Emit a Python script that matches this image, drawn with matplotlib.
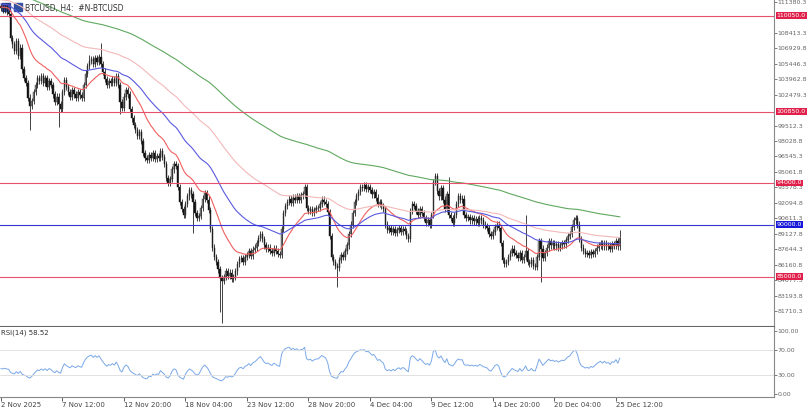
import numpy as np
import matplotlib
matplotlib.use("Agg")
import matplotlib.pyplot as plt

closes = [110.8,110.6,110.9,110.4,110.2,107.9,107.3,106.7,107.6,106.2,107.0,104.9,104.1,103.6,
102.2,101.4,101.9,102.7,103.4,104.1,103.8,104.3,103.6,104.1,103.2,103.8,103.4,102.5,101.8,102.3,101.6,101.1,
102.7,103.9,103.2,102.7,102.3,102.9,102.5,102.2,102.7,102.4,102.2,103.4,104.5,105.2,105.7,
105.9,105.4,106.0,105.6,106.1,105.4,104.7,104.0,103.4,103.8,103.6,104.0,103.6,104.3,103.4,101.8,101.2,
102.3,102.9,102.5,101.1,100.2,99.6,99.1,98.5,98.9,98.0,96.9,96.4,96.2,96.7,96.4,96.9,96.3,96.6,96.4,97.1,
96.5,95.8,94.5,94.0,94.4,95.3,95.8,95.6,93.6,92.2,91.5,90.9,92.0,92.7,93.3,92.9,92.2,91.1,90.6,90.8,
91.6,92.5,93.0,92.4,91.4,89.6,87.8,86.9,86.4,85.7,84.9,84.6,85.0,85.5,85.1,85.4,84.8,85.0,85.5,86.2,
86.7,86.8,86.4,86.9,87.1,87.5,87.0,87.6,87.8,88.2,88.7,89.1,88.6,88.0,87.7,87.8,87.5,87.3,87.7,87.5,
87.2,87.1,89.6,91.1,91.8,92.2,92.5,92.1,92.6,92.4,92.7,92.4,92.8,92.9,93.6,91.6,91.3,91.5,91.1,91.4,91.6,
91.6,92.0,92.4,92.2,92.0,91.2,88.9,86.9,86.4,86.0,85.8,86.6,87.1,86.9,87.5,88.0,89.1,90.0,91.1,
92.2,92.7,93.1,93.6,93.5,93.8,93.4,93.6,93.3,92.9,93.1,92.6,92.0,92.2,91.8,91.5,90.0,89.5,
89.7,89.3,89.6,89.2,89.5,89.7,89.3,89.6,89.4,88.9,88.6,91.3,92.0,91.8,91.3,90.9,91.5,
91.1,90.6,90.2,90.4,90.0,90.9,94.1,94.7,93.2,92.7,93.5,92.4,91.5,92.9,90.9,90.6,90.2,90.9,92.0,
92.7,92.4,92.5,90.9,90.6,90.7,90.4,90.6,90.3,90.5,90.2,90.6,90.4,90.0,89.9,89.7,89.1,88.9,89.3,
89.8,90.0,89.7,88.2,86.6,86.2,86.4,86.9,87.3,87.7,87.3,87.1,86.8,87.3,86.6,86.9,87.5,
86.4,86.2,86.6,86.0,85.9,86.9,88.4,87.7,86.8,87.3,87.8,88.4,88.0,88.2,87.9,88.1,87.8,88.0,88.2,88.1,
88.5,88.9,89.1,89.8,90.4,90.6,90.0,88.6,87.8,87.5,87.2,87.3,87.1,87.4,87.2,87.5,
87.8,88.0,88.2,87.9,88.2,87.9,88.0,87.7,88.1,88.0,88.4,87.9,88.7]
first_open = 111.0
wick_highs = {52: 107.4, 158: 93.9, 226: 95.0, 233: 94.6, 273: 90.9, 322: 89.5, 5: 110.3, 46: 106.3}
wick_lows = {15: 99.1, 30: 99.4, 115: 80.6, 114: 81.6, 175: 84.0, 281: 84.5, 100: 89.2, 62: 100.6}
wick_pad = 0.3
ema_periods = [21, 50, 100, 200]
ema_start = [110.9, 111.2, 111.6, 112.6]
ema_colors = ['#f06060', '#5a5ae0', '#f4b8b8', '#60a860']
hlines = [110050.0, 100850.0, 94000.0, 90000.0, 85000.0]
hline_colors = ['#e8506e', '#e8506e', '#e8506e', '#3535d8', '#e8506e']
hlabel_colors = ['#e0204a', '#e0204a', '#e0204a', '#1818d8', '#e0204a']
price_ticks = [111380.3, 108413.3, 106929.8, 105446.3, 103962.8, 102479.3, 99512.3, 98028.8,
               96545.3, 95061.8, 93578.3, 92094.8, 90611.3, 89127.8, 87644.3, 86160.8,
               84677.3, 83193.8, 81710.3]
date_idx = [0, 32, 64, 96, 128, 160, 192, 224, 256, 288, 320]
date_labels = ['2 Nov 2025', '7 Nov 12:00', '12 Nov 20:00', '18 Nov 04:00', '23 Nov 12:00',
               '28 Nov 20:00', '4 Dec 04:00', '9 Dec 12:00', '14 Dec 20:00', '20 Dec 04:00', '25 Dec 12:00']

c = np.array(closes) * 1000
o = np.concatenate([[first_open * 1000], c[:-1]])
h = np.maximum(o, c) + wick_pad * 1000
l = np.minimum(o, c) - wick_pad * 1000
for k, v in wick_highs.items():
    h[k] = max(h[k], v * 1000)
for k, v in wick_lows.items():
    l[k] = min(l[k], v * 1000)
n = len(c)
x = np.arange(n)

FS = 4.5
fig = plt.figure(figsize=(8.08, 4.09), dpi=100)
ax = fig.add_axes([0, 0.2005, 0.9585, 0.7995])
ax2 = fig.add_axes([0, 0.03, 0.9585, 0.1705], sharex=ax)

for a in (ax, ax2):
    for s in ['top', 'left', 'bottom']:
        a.spines[s].set_visible(False)
    a.spines['right'].set_color('#888888')
    a.spines['right'].set_linewidth(0.8)
    a.yaxis.tick_right()
    a.tick_params(axis='y', labelsize=FS, colors='#666666', length=2, width=0.6, pad=0.3)
ax.spines['bottom'].set_visible(True)
ax.spines['bottom'].set_color('#666666')
ax.spines['bottom'].set_linewidth(1.5)

ax.vlines(x, l, h, color='#222222', linewidth=0.6)
up = c >= o
ax.bar(x[up], (c - o)[up], bottom=o[up], width=0.7, color='#9a9a9a', edgecolor='#333333', linewidth=0.3)
ax.bar(x[~up], (o - c)[~up], bottom=c[~up], width=0.7, color='#111111', edgecolor='#111111', linewidth=0.3)

for p, s0, col in zip(ema_periods, ema_start, ema_colors):
    a_ = 2 / (p + 1)
    e = np.empty(n)
    prev = s0 * 1000
    for i in range(n):
        prev = prev + a_ * (c[i] - prev)
        e[i] = prev
    ax.plot(x, e, color=col, linewidth=0.8)

for v, col, lc in zip(hlines, hline_colors, hlabel_colors):
    ax.axhline(v, color=col, linewidth=0.8)
    ax.text(1.003, v, f'{v:.1f}', transform=ax.get_yaxis_transform(), fontsize=FS, color='white',
            va='center', ha='left', bbox=dict(facecolor=lc, edgecolor='none', pad=0.6), zorder=5, clip_on=False)

ax.set_ylim(80170, 111566)
ax.set_yticks(price_ticks)
ax.set_yticklabels([f'{t:.1f}' for t in price_ticks])
ax.set_xlim(-0.5, 402.5)
ax.tick_params(axis='x', bottom=False, labelbottom=False)

ax.text(0.032, 0.988, 'BTCUSD, H4:  #N-BTCUSD', transform=ax.transAxes, fontsize=5.5, color='#333333', va='top')
ax.add_patch(plt.Rectangle((0.002, 0.965), 0.011, 0.027, transform=ax.transAxes, color='#2f3f8f'))
ax.add_patch(plt.Rectangle((0.018, 0.965), 0.011, 0.027, transform=ax.transAxes, color='#3050a0'))

# RSI
d = np.diff(c)
g = np.where(d > 0, d, 0.0)
ls = np.where(d < 0, -d, 0.0)
ag = np.empty(n); al = np.empty(n)
ag[0] = 600.0; al[0] = 900.0
for i in range(1, n):
    ag[i] = (ag[i-1] * 13 + g[i-1]) / 14
    al[i] = (al[i-1] * 13 + ls[i-1]) / 14
rsi = 100 - 100 / (1 + ag / al)
ax2.plot(x, rsi, color='#7aa8e8', linewidth=0.7)
ax2.axhline(70, color='#dddddd', linewidth=0.6)
ax2.axhline(30, color='#dddddd', linewidth=0.6)
ax2.set_ylim(-4.5, 106)
ax2.set_yticks([0, 30, 70, 100])
ax2.set_yticklabels(['0.00', '30.00', '70.00', '100.00'])
ax2.text(0.001, 0.97, 'RSI(14) 58.52', transform=ax2.transAxes, fontsize=5, color='#333333', va='top')
ax2.spines['bottom'].set_visible(True)
ax2.spines['bottom'].set_color('#888888')
ax2.spines['bottom'].set_linewidth(0.8)
ax2.set_xticks(date_idx)
ax2.set_xticklabels(date_labels)
ax2.tick_params(axis='x', labelsize=5, colors='#444444', length=3, width=0.6, pad=0.5)
for t in ax2.get_xticklabels():
    t.set_ha('left')

fig.savefig('out.png', dpi=100)
